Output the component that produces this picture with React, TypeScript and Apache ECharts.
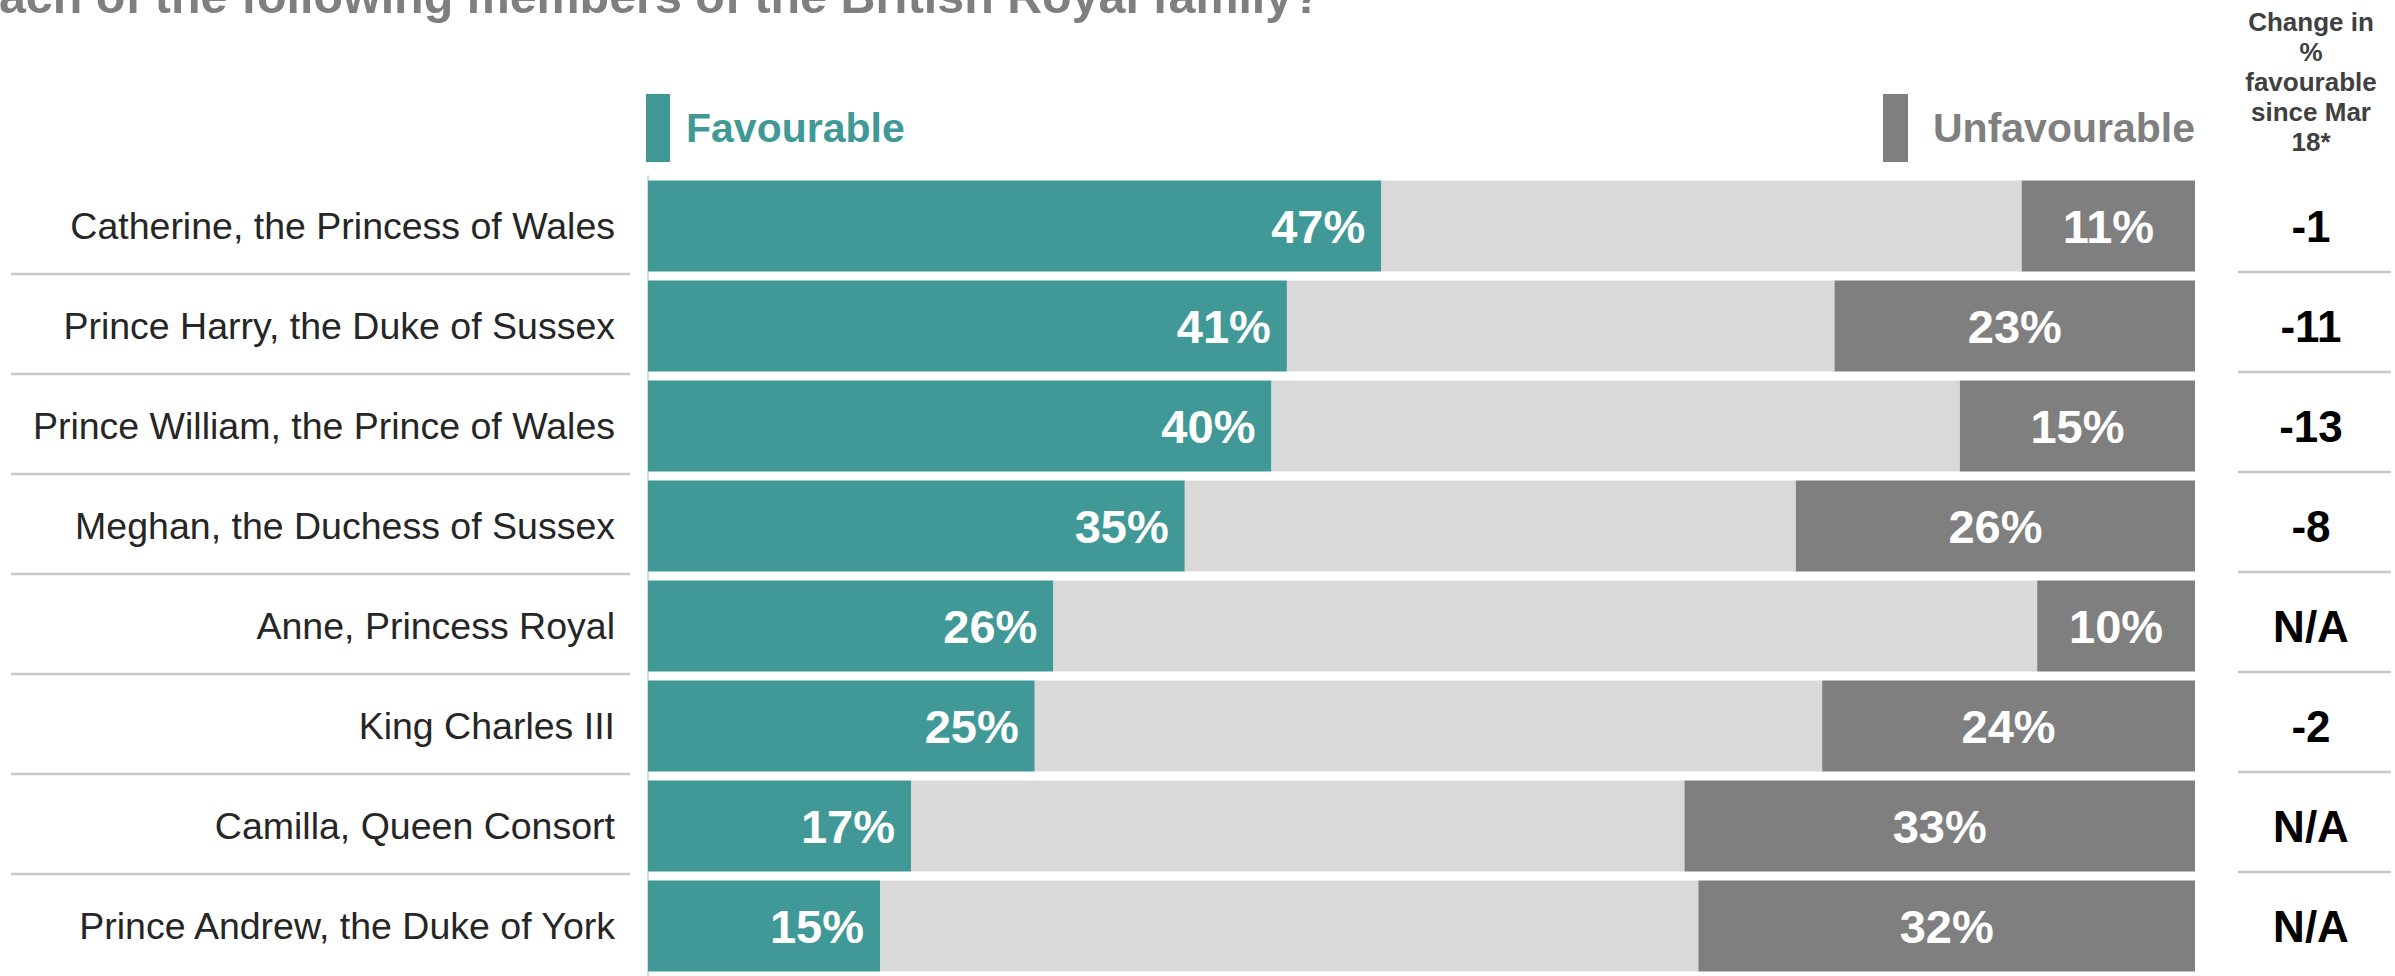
import React, { useEffect, useRef } from "react";
import * as echarts from "echarts";

const categories = [
  "Catherine, the Princess of Wales",
  "Prince Harry, the Duke of Sussex",
  "Prince William, the Prince of Wales",
  "Meghan, the Duchess of Sussex",
  "Anne, Princess Royal",
  "King Charles III",
  "Camilla, Queen Consort",
  "Prince Andrew, the Duke of York",
];
const favourable = [47.4, 41.3, 40.3, 34.7, 26.2, 25.0, 17.0, 15.0];
const neither = [41.4, 35.4, 44.5, 39.5, 63.6, 50.9, 50.0, 52.9];
const unfavourable = [11.2, 23.3, 15.2, 25.8, 10.2, 24.1, 33.0, 32.1];
const changeSinceMar = ["-1", "-11", "-13", "-8", "N/A", "-2", "N/A", "N/A"];
const titleText = "each of the following members of the British Royal family?";
const headerLines = ["Change in", "%", "favourable", "since Mar", "18*"];

const FONT = "'Liberation Sans', Arial, Helvetica, sans-serif";
const TEAL = "#419997";
const LIGHT = "#d9d9d9";
const DARK = "#7f7f7f";
const SEP = "#c8c8c8";

const pct = (p: any) => `${Math.round(p.value)}%`;

export default function App() {
  const ref = useRef<HTMLDivElement>(null);

  useEffect(() => {
    if (!ref.current) return;
    const chart = echarts.init(ref.current, undefined, { renderer: "svg" });

    chart.setOption({
      animation: false,
      backgroundColor: "#ffffff",
      textStyle: { fontFamily: FONT },
      grid: { left: 648, right: 200, top: 176, bottom: -4, containLabel: false },
      xAxis: { type: "value", min: 0, max: 100, show: false },
      yAxis: [
        {
          type: "category",
          inverse: true,
          data: categories,
          offset: 1,
          axisLine: { show: true, lineStyle: { color: LIGHT, width: 2 } },
          axisTick: { show: false },
          splitLine: { show: false },
          axisLabel: {
            margin: 32,
            fontSize: 37.5,
            color: "#262626",
            fontFamily: FONT,
          },
        },
        {
          type: "category",
          inverse: true,
          position: "right",
          data: categories,
          axisLine: { show: false },
          axisTick: { show: false },
          splitLine: { show: false },
          axisLabel: {
            margin: 116,
            align: "center",
            fontSize: 44,
            fontWeight: "bold",
            color: "#000000",
            fontFamily: FONT,
            formatter: (_v: string, i: number) => changeSinceMar[i],
          },
        },
      ],
      series: [
        {
          name: "Favourable",
          type: "bar",
          stack: "total",
          yAxisIndex: 0,
          barWidth: 91,
          data: favourable,
          itemStyle: { color: TEAL },
          label: {
            show: true,
            position: "insideRight",
            distance: 16,
            formatter: pct,
            color: "#ffffff",
            fontSize: 47,
            fontWeight: "bold",
            fontFamily: FONT,
          },
        },
        {
          name: "Neither",
          type: "bar",
          stack: "total",
          yAxisIndex: 0,
          barWidth: 91,
          data: neither,
          itemStyle: { color: LIGHT },
          label: { show: false },
        },
        {
          name: "Unfavourable",
          type: "bar",
          stack: "total",
          yAxisIndex: 0,
          barWidth: 91,
          data: unfavourable,
          itemStyle: { color: DARK },
          label: {
            show: true,
            position: "inside",
            formatter: pct,
            color: "#ffffff",
            fontSize: 47,
            fontWeight: "bold",
            fontFamily: FONT,
          },
        },
      ],
    });

    const centers = categories.map(
      (c) => chart.convertToPixel({ yAxisIndex: 0 }, c) as number
    );
    const graphics: any[] = [];
    for (let i = 0; i < centers.length - 1; i++) {
      const y = (centers[i] + centers[i + 1]) / 2;
      graphics.push({
        type: "line",
        shape: { x1: 11, y1: y - 2, x2: 630, y2: y - 2 },
        style: { stroke: SEP, lineWidth: 2.5 },
      });
      graphics.push({
        type: "line",
        shape: { x1: 2238, y1: y - 4, x2: 2391, y2: y - 4 },
        style: { stroke: SEP, lineWidth: 2.5 },
      });
    }
    graphics.push({
      type: "text",
      x: -28,
      y: -4,
      style: {
        text: titleText,
        font: `bold 48.4px ${FONT}`,
        fill: "#7f7f7f",
        textAlign: "left",
        textVerticalAlign: "middle",
      },
    });
    graphics.push({
      type: "rect",
      shape: { x: 646, y: 94, width: 24, height: 68 },
      style: { fill: TEAL },
    });
    graphics.push({
      type: "text",
      x: 686,
      y: 128,
      style: {
        text: "Favourable",
        font: `bold 41px ${FONT}`,
        fill: TEAL,
        textAlign: "left",
        textVerticalAlign: "middle",
      },
    });
    graphics.push({
      type: "rect",
      shape: { x: 1883, y: 94, width: 25, height: 68 },
      style: { fill: DARK },
    });
    graphics.push({
      type: "text",
      x: 2195,
      y: 128,
      style: {
        text: "Unfavourable",
        font: `bold 41px ${FONT}`,
        fill: DARK,
        textAlign: "right",
        textVerticalAlign: "middle",
      },
    });
    graphics.push({
      type: "text",
      x: 2311,
      y: 82,
      style: {
        text: headerLines.join("\n"),
        font: `bold 26px ${FONT}`,
        lineHeight: 30,
        fill: "#404040",
        textAlign: "center",
        textVerticalAlign: "middle",
      },
    });
    chart.setOption({ graphic: graphics });

    return () => chart.dispose();
  }, []);

  return (
    <div
      ref={ref}
      style={{ position: "absolute", left: 0, top: 0, width: 2395, height: 976 }}
    />
  );
}
